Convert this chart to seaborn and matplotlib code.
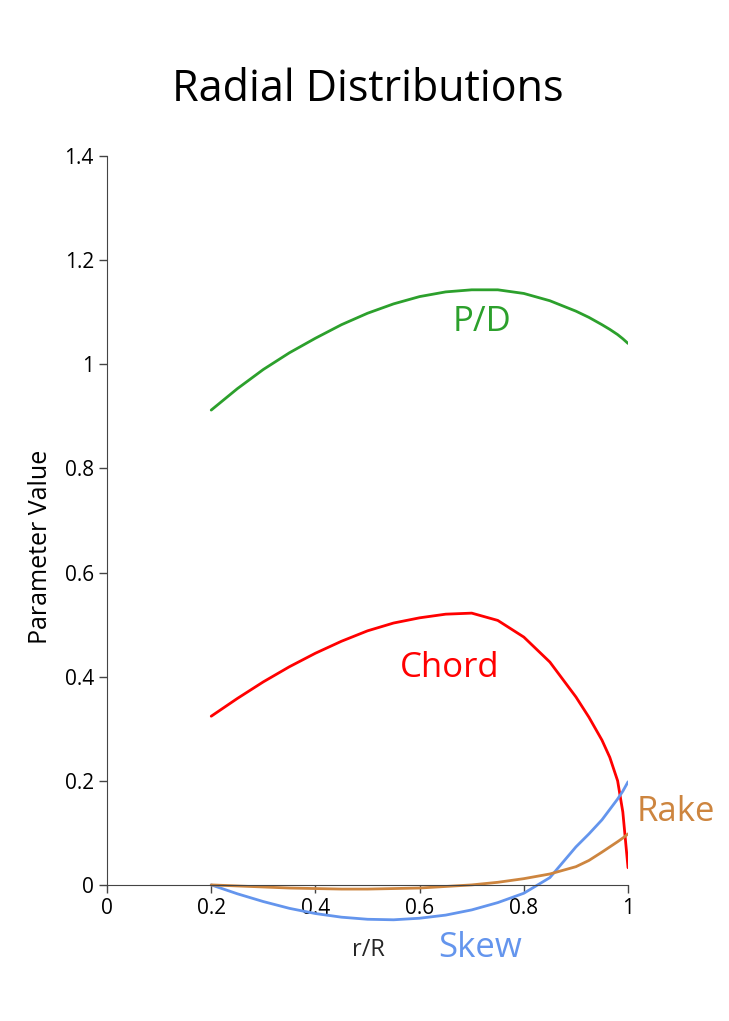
import numpy as np
import pandas as pd
import matplotlib.pyplot as plt
import seaborn as sns

r_R = [0.2, 0.25, 0.3, 0.35, 0.4, 0.45, 0.5, 0.55, 0.6, 0.65, 0.7, 0.75, 0.8,
       0.85, 0.9, 0.925, 0.95, 0.965, 0.98, 0.99, 1.0]
pitch = [0.912, 0.953, 0.99, 1.022, 1.05, 1.076, 1.098, 1.116, 1.13, 1.139, 1.143,
         1.143, 1.136, 1.122, 1.102, 1.09, 1.076, 1.067, 1.057, 1.049, 1.04]
chord = [0.324, 0.358, 0.39, 0.419, 0.445, 0.468, 0.488, 0.503, 0.513, 0.52, 0.522,
         0.508, 0.476, 0.428, 0.361, 0.322, 0.278, 0.245, 0.2, 0.14, 0.033]
skew = [0.0, -0.017, -0.032, -0.045, -0.055, -0.062, -0.066, -0.067, -0.064, -0.058,
        -0.048, -0.034, -0.016, 0.014, 0.073, 0.098, 0.125, 0.145, 0.165, 0.18, 0.198]
rake = [0.0, -0.002, -0.004, -0.006, -0.007, -0.008, -0.008, -0.007, -0.006, -0.003,
        0.0, 0.005, 0.012, 0.021, 0.035, 0.047, 0.063, 0.073, 0.083, 0.09, 0.098]

sns.set_style("white")
plt.rcParams['font.family'] = ['Open Sans', 'DejaVu Sans']

fig = plt.figure(figsize=(7.29, 10.21), dpi=100)
ax = fig.add_axes([0.1468, 0.0823, 0.7147, 0.7649])

series = [("P/D", pitch, "#2ca02c", (482, 322)),
          ("Chord", chord, "#ff0000", (450, 668)),
          ("Skew", skew, "#6495ed", (480, 948)),
          ("Rake", rake, "#cd853f", (676, 812))]
for name, vals, col, pos in series:
    sns.lineplot(x=r_R, y=vals, color=col, lw=2, ax=ax)
    fig.text(pos[0] / 729, 1 - pos[1] / 1021, name, color=col, fontsize=25,
             ha="center", va="center")

ax.set_xlim(0, 1)
ax.set_ylim(-0.1, 1.4)
for s in ["top", "right"]:
    ax.spines[s].set_visible(False)
ax.spines["bottom"].set_position(("data", 0))
ax.spines["left"].set_bounds(0, 1.4)
ax.spines["left"].set_color("#444444")
ax.spines["bottom"].set_color("#444444")
ax.set_xticks([0, 0.2, 0.4, 0.6, 0.8, 1])
ax.set_xticklabels(["0", "0.2", "0.4", "0.6", "0.8", "1"])
ax.set_yticks([0, 0.2, 0.4, 0.6, 0.8, 1, 1.2, 1.4])
ax.set_yticklabels(["0", "0.2", "0.4", "0.6", "0.8", "1", "1.2", "1.4"])
ax.tick_params(axis="both", labelsize=15, length=6, width=1, colors="#444444",
               labelcolor="black", direction="out", bottom=True, left=True)
ax.set_ylabel("Parameter Value", fontsize=18, labelpad=8, color="black")
fig.text(368 / 729, 1 - 950 / 1021, "r/R", fontsize=17, ha="center", va="center")
fig.text(368 / 729, 1 - 90 / 1021, "Radial Distributions", fontsize=31,
         ha="center", va="center", color="black")

fig.savefig("out.png", dpi=100)
